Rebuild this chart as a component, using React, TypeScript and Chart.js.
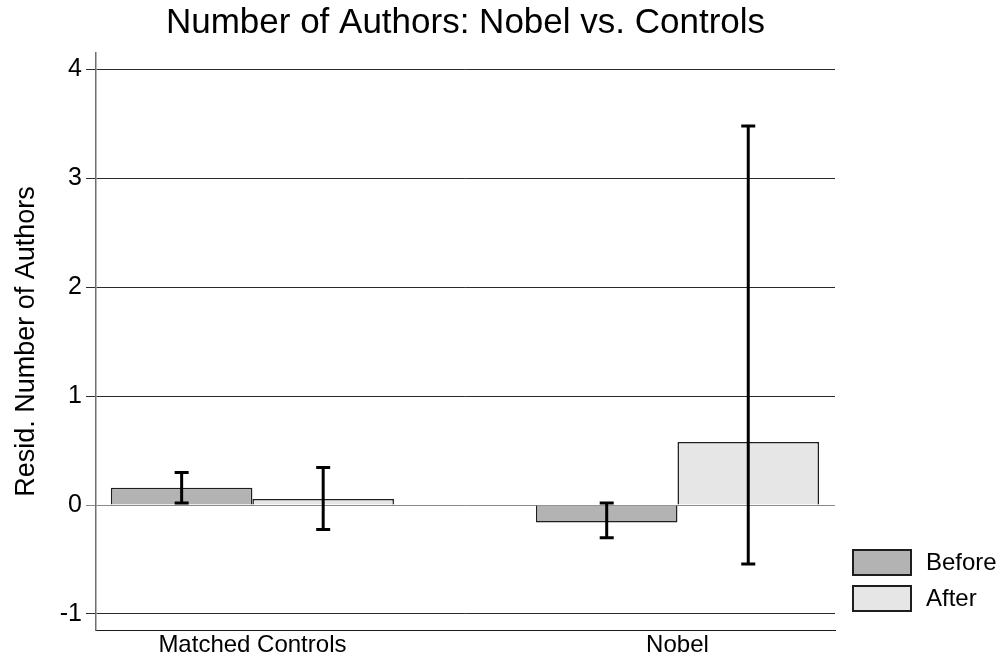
import { useEffect, useRef } from 'react';
import { Chart, registerables } from 'chart.js';

Chart.register(...registerables);

// Residualised author counts before and after, by group
const CATEGORIES = ['Matched Controls', 'Nobel'];
const SERIES_NAMES = ['Before', 'After'];
const BEFORE = [0.16, -0.16];
const AFTER = [0.055, 0.58];
// Confidence interval bounds for each bar
const BEFORE_LOW = [0.02, -0.3];
const BEFORE_HIGH = [0.3, 0.02];
const AFTER_LOW = [-0.225, -0.54];
const AFTER_HIGH = [0.345, 3.48];
const Y_TICKS = [-1, 0, 1, 2, 3, 4];

const TITLE = 'Number of Authors: Nobel vs. Controls';
const Y_TITLE = 'Resid. Number of Authors';

const FONT = '"Liberation Sans", Arial, Helvetica, sans-serif';
const FILLS = ['#b3b3b3', '#e6e6e6'];
const EDGE = '#1e1e1e';

const errorBars = {
  id: 'errorBars',
  afterDatasetsDraw(chart: any) {
    const { ctx } = chart;
    const y = chart.scales.y;
    const bounds = [
      [BEFORE_LOW, BEFORE_HIGH],
      [AFTER_LOW, AFTER_HIGH],
    ];
    ctx.save();
    ctx.strokeStyle = '#000';
    ctx.lineWidth = 3;
    ctx.lineCap = 'butt';
    chart.data.datasets.forEach((_: any, di: number) => {
      const meta = chart.getDatasetMeta(di);
      meta.data.forEach((bar: any, i: number) => {
        const x = bar.x;
        const lo = y.getPixelForValue(bounds[di][0][i]);
        const hi = y.getPixelForValue(bounds[di][1][i]);
        const cap = 7;
        ctx.beginPath();
        ctx.moveTo(x, lo);
        ctx.lineTo(x, hi);
        ctx.moveTo(x - cap, lo);
        ctx.lineTo(x + cap, lo);
        ctx.moveTo(x - cap, hi);
        ctx.lineTo(x + cap, hi);
        ctx.stroke();
      });
    });
    ctx.restore();
  },
};

const titleAndLegend = {
  id: 'titleAndLegend',
  afterDraw(chart: any) {
    const { ctx, chartArea } = chart;
    ctx.save();
    // Title centred over the plotting area
    ctx.fillStyle = '#000';
    ctx.font = `35px ${FONT}`;
    ctx.textAlign = 'center';
    ctx.textBaseline = 'middle';
    ctx.fillText(TITLE, (chartArea.left + chartArea.right) / 2, 23);

    // Legend in the lower right margin
    const bx = chartArea.right + 18;
    const bw = 58;
    const bh = 25;
    const rows = [chartArea.bottom - 80, chartArea.bottom - 44];
    ctx.font = `24px ${FONT}`;
    ctx.textAlign = 'left';
    SERIES_NAMES.forEach((name, i) => {
      const top = rows[i];
      ctx.fillStyle = FILLS[i];
      ctx.fillRect(bx, top, bw, bh);
      ctx.strokeStyle = EDGE;
      ctx.lineWidth = 2;
      ctx.strokeRect(bx, top, bw, bh);
      ctx.fillStyle = '#000';
      ctx.fillText(name, bx + bw + 15, top + bh / 2 + 1);
    });
    ctx.restore();
  },
};

export default function App() {
  const canvasRef = useRef<HTMLCanvasElement | null>(null);

  useEffect(() => {
    document.body.style.margin = '0';
    const canvas = canvasRef.current;
    if (!canvas) return;

    const chart = new Chart(canvas, {
      type: 'bar',
      data: {
        datasets: [
          {
            label: SERIES_NAMES[0],
            data: BEFORE.map((v, i) => ({ x: i, y: v })),
            backgroundColor: FILLS[0],
            borderColor: EDGE,
            borderWidth: 1.5,
          },
          {
            label: SERIES_NAMES[1],
            data: AFTER.map((v, i) => ({ x: i, y: v })),
            backgroundColor: FILLS[1],
            borderColor: EDGE,
            borderWidth: 1.5,
          },
        ],
      },
      options: {
        animation: false,
        responsive: false,
        devicePixelRatio: 1,
        layout: { padding: { top: 53, right: 170, left: 0, bottom: 0 } },
        datasets: {
          bar: { categoryPercentage: 0.666, barPercentage: 1 },
        },
        plugins: {
          legend: { display: false },
          title: { display: false },
          tooltip: { enabled: false },
        },
        scales: {
          x: {
            type: 'linear',
            offset: false,
            min: -0.368,
            max: 1.3706,
            afterBuildTicks: (scale: any) => {
              scale.ticks = CATEGORIES.map((_, i) => ({ value: i }));
            },
            afterFit: (scale: any) => {
              scale.height = 29;
            },
            ticks: {
              callback: (v: any) => CATEGORIES[v] ?? '',
              color: '#000',
              font: { family: FONT, size: 24 },
              padding: 1,
              maxRotation: 0,
              autoSkip: false,
            },
            grid: { display: false, drawTicks: false },
            border: { display: true, color: '#1a1a1a', width: 1 },
          },
          y: {
            min: -1.147,
            max: 4.15,
            afterBuildTicks: (scale: any) => {
              scale.ticks = Y_TICKS.map((v) => ({ value: v }));
            },
            afterFit: (scale: any) => {
              scale.width = 96;
            },
            ticks: {
              color: '#000',
              font: { family: FONT, size: 25 },
              padding: 4,
            },
            grid: {
              color: (c: any) => (c.tick && c.tick.value === 0 ? '#8a8a8a' : '#2a2a2a'),
              lineWidth: 1,
              tickLength: 10,
              drawTicks: true,
            },
            border: { display: true, color: '#6e6e6e', width: 1.5 },
            title: {
              display: true,
              text: Y_TITLE,
              color: '#000',
              font: { family: FONT, size: 27 },
              padding: { top: 10, bottom: 0 },
            },
          },
        },
      },
      plugins: [errorBars, titleAndLegend],
    } as any);

    return () => chart.destroy();
  }, []);

  return (
    <div style={{ width: 1005, height: 659 }}>
      <canvas ref={canvasRef} width={1005} height={659} style={{ display: 'block' }} />
    </div>
  );
}
